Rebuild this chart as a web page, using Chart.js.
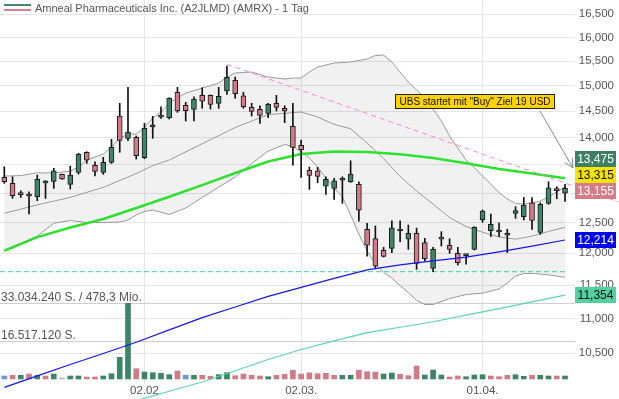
<!DOCTYPE html>
<html>
<head>
<meta charset="utf-8">
<script src="https://cdn.jsdelivr.net/npm/chart.js@4.4.1/dist/chart.umd.min.js"></script>
<style>
  html, body { margin: 0; padding: 0; background: #fff; }
  #wrap { width: 619px; height: 399px; }
</style>
</head>
<body>
<div id="wrap"><canvas id="chart" width="619" height="399"></canvas></div>
<script>
// --- data (AMRX daily) ---
const dates = ['07.01.','08.01.','09.01.','12.01.','13.01.','14.01.','15.01.','16.01.','20.01.','21.01.',
  '22.01.','23.01.','26.01.','27.01.','28.01.','29.01.','30.01.','02.02.','03.02.','04.02.',
  '05.02.','06.02.','09.02.','10.02.','11.02.','12.02.','13.02.','17.02.','18.02.','19.02.',
  '20.02.','23.02.','24.02.','25.02.','26.02.','27.02.','02.03.','03.03.','04.03.','05.03.',
  '06.03.','09.03.','10.03.','11.03.','12.03.','13.03.','16.03.','17.03.','18.03.','19.03.',
  '20.03.','23.03.','24.03.','25.03.','26.03.','27.03.','30.03.','31.03.','01.04.','02.04.',
  '06.04.','07.04.','08.04.','09.04.','10.04.','13.04.','14.04.','15.04.','16.04.'];

const open = [13277,13171,12990,12950,12937,13180,13206,13329,13153,13365,
  13727,13490,13365,13544,14407,13986,14004,13628,14198,14385,
  14375,14870,14614,14536,14810,14810,14653,14896,15110,14802,
  14575,14536,14459,14653,14556,14211,13855,13401,13394,13123,
  13083,13225,13199,13153,12388,12234,12045,12077,12360,12224,
  12322,12169,11759,12228,12127,11997,11960,12061,12542,12365,
  12343,12290,12655,12598,12835,12338,12824,13077,13000];
const high = [13465,13287,13041,13024,13317,13217,13437,13335,13478,13708,
  13738,13555,13635,13967,14653,14969,14029,14268,14402,14587,
  14763,14969,14673,14783,14962,14820,14969,15401,15177,14870,
  14653,14606,14653,14810,14606,14653,13954,13460,13454,13287,
  13259,13287,13573,13199,12487,12443,12094,12527,12527,12459,
  12409,12240,12094,12349,12234,12094,11981,12431,12711,12643,
  12497,12388,12768,12925,12925,12835,13199,13112,13153];
const low = [13171,12909,12926,12643,12869,12909,13083,13240,13071,13334,
  13526,13300,13329,13526,13727,13941,13604,13610,13986,14363,
  14350,14479,14312,14312,14556,14542,14556,14830,14751,14556,
  14407,14268,14375,14504,14280,13496,13277,13065,13181,12978,
  12893,12824,13188,12525,11954,11753,11938,12007,12185,12061,
  11744,11874,11706,12115,11997,11811,11827,12050,12504,12268,
  12268,12007,12570,12542,12388,12305,12808,12903,12858];
const close = [13199,12954,12975,12960,13241,13195,13394,13247,13317,13690,
  13586,13383,13544,13819,13948,14103,13664,14173,14241,14400,
  14751,14504,14510,14738,14698,14632,14791,15171,14842,14587,
  14498,14420,14632,14575,14504,13819,13769,13312,13294,13241,
  13217,13240,13334,12706,12127,11795,11949,12414,12372,12322,
  11838,11911,12061,12240,12061,11848,11970,12421,12694,12470,
  12355,12305,12699,12796,12537,12808,13094,13041,13083];

const volume = [1310000,1610000,1610000,2180000,1610000,1310000,2180000,440000,1310000,1310000,
  870000,870000,1310000,2310000,9470000,33034240,4490000,3050000,2750000,2490000,
  1880000,3490000,1610000,1610000,1610000,1180000,1880000,2750000,1440000,2180000,
  1610000,1310000,1000000,1610000,2050000,3800000,2180000,2700000,2310000,2490000,
  1610000,1610000,1610000,3800000,3190000,3050000,2180000,2620000,2050000,1440000,
  5670000,1750000,3930000,1750000,870000,1310000,1000000,1750000,1880000,1310000,
  1000000,1610000,1880000,1180000,1610000,1610000,1310000,1310000,1310000];
const volDir = ['n','d','u','d','u','d','u','g','u','u',
  'd','d','u','u','u','u','d','u','u','u',
  'u','d','n','u','d','d','u','u','d','d',
  'd','d','u','d','d','d','d','d','d','d',
  'd','u','u','d','d','d','u','u','d','d',
  'd','u','u','u','d','d','u','u','u','d',
  'd','d','u','u','d','u','u','d','u'];

const maIdx = [0,4,8,12,16,20,24,28,32,36,40,44,48,52,56,60,64,68];
const maGreen = [12039,12259,12418,12560,12745,12938,13139,13354,13559,13695,13740,13734,13692,13622,13528,13427,13343,13259];
const maBlue = [10034,10188,10344,10498,10656,10834,11011,11169,11329,11464,11604,11735,11814,11877,11936,12021,12114,12213];
const maTealIdx = [12,16,20,24,28,32,36,40,44,48,52,56,60,64,68];
const maTeal = [9737,9859,9982,10106,10259,10414,10554,10676,10794,10871,10951,11048,11145,11246,11348];

const bbUpperIdx = [0,2,4,6,8,9,10,12,13,14,15,16,17,18,19,20,21,22,24,26,27,28,30,32,34,35,36,37,38,40,
  42,44,45,46,47,48,49,50,51,52,53,54,55,56,57,58,59,60,61,62,63,64,65,66,67,68];
const bbUpper = [13299,13308,13358,13352,13388,13460,13586,13695,13833,13982,14065,14065,14188,14369,14484,
  14659,14757,14856,14954,15055,15177,15258,15278,15177,15136,15156,15156,15278,15380,15463,
  15484,15546,15618,15629,15484,15278,15076,14916,14757,14542,14312,14028,13806,13586,13451,
  13299,13159,13010,12898,12821,12813,12830,12864,12933,13023,13111];
const bbMidIdx = [0,4,8,12,16,18,20,24,28,32,36,38,40,42,44,46,48,50,52,54,56,58,60,62,64,66,68];
const bbMid = [12655,12798,12927,13100,13343,13486,13586,13885,14188,14434,14486,14388,14249,14164,13898,
  13613,13291,13036,12812,12584,12434,12338,12262,12226,12275,12353,12421];
const bbLowIdx = [0,2,4,6,8,10,12,14,15,16,17,18,20,22,24,26,28,30,32,34,35,36,37,38,39,40,41,42,43,44,
  45,46,47,48,49,50,51,52,54,56,58,59,60,61,62,63,64,66,68];
const bbLow = [12039,12156,12278,12487,12534,12500,12500,12509,12542,12627,12686,12711,12635,12745,12924,
  13105,13282,13523,13751,13870,13833,13732,13622,13460,13264,13088,12933,12627,12310,12034,
  11828,11696,11609,11492,11386,11268,11206,11206,11296,11356,11378,11409,11439,11532,11640,
  11678,11681,11658,11620];

const trendIdx = [27, 74.55];
const trendVal = [15436, 12847];
const supportVal = 11707;

const priceTicks = [10500,11000,11500,12000,12500,13000,13500,14000,14500,15000,15500,16000,16500];
const xTickIdx = [17, 36, 58];
const xTickText = ['02.02', '02.03.', '01.04.'];
const volTicks = [16517120, 33034240];
const volText = ['16.517.120 S.', '33.034.240 S. / 478,3 Mio.'];

const tagVals = [13475, 13315, 13155, 12214, 11354];
const tagBg = ['#3d8066', '#f2e400', '#d47d88', '#0000f0', '#52d0a2'];
const tagFg = ['#fff', '#111', '#fff', '#fff', '#111'];

const noteText = 'UBS startet mit "Buy" Ziel 19 USD';
const noteAt = [57.06, 14708];
const arrowFrom = [64.96, 14504];
const arrowTo = [68.97, 13442];

// --- styles ---
const FONT = '"Liberation Sans", Arial, sans-serif';
const UP = '#3e8568', DOWN = '#d27a86';
const volColors = { u: '#3e8568', d: '#d27a86', n: '#6a96e0', g: '#bbbbbb' };
const pts = (idx, vals) => idx.map((x, i) => ({ x: x, y: vals[i] }));

const overlay = {
  id: 'overlay',
  afterDraw(chart) {
    const ctx = chart.ctx;
    const xs = chart.scales.x, ys = chart.scales.y, yv = chart.scales.yv;
    const area = chart.chartArea;
    ctx.save();

    // legend icon + title
    ctx.fillStyle = '#3f8a6a';
    ctx.fillRect(4, 4, 27, 2);
    ctx.fillStyle = '#d9808c';
    ctx.fillRect(4, 9, 27, 2);
    ctx.font = '11px ' + FONT;
    ctx.fillStyle = '#555';
    ctx.textBaseline = 'middle';
    ctx.textAlign = 'left';
    ctx.fillText('Amneal Pharmaceuticals Inc. (A2JLMD) (AMRX) - 1 Tag', 35, 8.5);

    // volume level labels
    ctx.font = '12px ' + FONT;
    ctx.textBaseline = 'alphabetic';
    volTicks.forEach((v, i) => {
      ctx.fillText(volText[i], 1, yv.getPixelForValue(v) - 2.5);
    });

    // price tags on the right
    const tagH = 16;
    const tags = tagVals.map((v, i) => ({ v, bg: tagBg[i], fg: tagFg[i], y: ys.getPixelForValue(v) }))
      .sort((a, b) => a.y - b.y);
    const groups = [];
    tags.forEach(t => {
      const g = groups[groups.length - 1];
      if (g && t.y - g[g.length - 1].y < tagH) g.push(t); else groups.push([t]);
    });
    groups.forEach(g => {
      const mid = g.reduce((s, t) => s + t.y, 0) / g.length;
      g.forEach((t, k) => { t.y = mid + (k - (g.length - 1) / 2) * tagH; });
    });
    ctx.font = '12px ' + FONT;
    ctx.textAlign = 'center';
    ctx.textBaseline = 'middle';
    tags.forEach(t => {
      ctx.fillStyle = t.bg;
      ctx.fillRect(area.right, Math.round(t.y - tagH / 2), 41, tagH);
      ctx.fillStyle = t.fg;
      ctx.fillText(t.v.toLocaleString('en-US'), area.right + 20.5, Math.round(t.y) + 0.5);
    });

    // news note with arrow
    const fx = xs.getPixelForValue(arrowFrom[0]), fy = ys.getPixelForValue(arrowFrom[1]);
    const tx = xs.getPixelForValue(arrowTo[0]), ty = ys.getPixelForValue(arrowTo[1]);
    ctx.strokeStyle = '#8a8a8a';
    ctx.lineWidth = 1;
    ctx.beginPath();
    ctx.moveTo(fx, fy);
    ctx.lineTo(tx, ty);
    const ang = Math.atan2(ty - fy, tx - fx);
    [0.45, -0.45].forEach(a => {
      ctx.moveTo(tx, ty);
      ctx.lineTo(tx - 10 * Math.cos(ang + a), ty - 10 * Math.sin(ang + a));
    });
    ctx.stroke();

    ctx.font = '10px ' + FONT;
    const w = ctx.measureText(noteText).width + 8;
    const cx = xs.getPixelForValue(noteAt[0]), cy = ys.getPixelForValue(noteAt[1]);
    const bx = Math.round(cx - w / 2) + 0.5, by = Math.round(cy - 7) + 0.5;
    ctx.fillStyle = '#ffd200';
    ctx.fillRect(bx, by, w, 14);
    ctx.strokeStyle = '#222';
    ctx.strokeRect(bx, by, w, 14);
    ctx.fillStyle = '#111';
    ctx.textAlign = 'center';
    ctx.fillText(noteText, bx + w / 2, by + 7.5);

    ctx.restore();
  }
};

new Chart(document.getElementById('chart'), {
  type: 'line',
  data: {
    datasets: [
      { // 0 Bollinger upper (fills to lower)
        data: pts(bbUpperIdx, bbUpper), yAxisID: 'y', borderColor: '#999', borderWidth: 1,
        pointRadius: 0, fill: 2, backgroundColor: 'rgba(0,0,0,0.055)', order: 20
      },
      { // 1 Bollinger middle
        data: pts(bbMidIdx, bbMid), yAxisID: 'y', borderColor: '#999', borderWidth: 1,
        pointRadius: 0, fill: false, order: 19
      },
      { // 2 Bollinger lower
        data: pts(bbLowIdx, bbLow), yAxisID: 'y', borderColor: '#999', borderWidth: 1,
        pointRadius: 0, fill: false, order: 18
      },
      { // volume
        type: 'bar', yAxisID: 'yv',
        data: volume.map((v, i) => ({ x: i, y: v })),
        backgroundColor: volDir.map(d => volColors[d]),
        barThickness: 5, grouped: false, order: 15
      },
      { // 200-day line
        data: pts(maTealIdx, maTeal), yAxisID: 'y', borderColor: '#5cd6a9', borderWidth: 1.2,
        pointRadius: 0, fill: false, clip: false, order: 12
      },
      { // 38-day line
        data: pts(maIdx, maGreen), yAxisID: 'y', borderColor: '#2fe02f', borderWidth: 2.5,
        pointRadius: 0, fill: false, order: 11
      },
      { // support level
        data: [{ x: -0.52, y: supportVal }, { x: 68, y: supportVal }], yAxisID: 'y',
        borderColor: '#3fd0a0', borderWidth: 1, borderDash: [5, 3], pointRadius: 0, fill: false, order: 10
      },
      { // trend line
        data: pts(trendIdx, trendVal), yAxisID: 'y', borderColor: '#ff86c0', borderWidth: 1,
        borderDash: [5, 4], pointRadius: 0, fill: false, clip: false, order: 9
      },
      { // wicks
        type: 'bar', yAxisID: 'y',
        data: low.map((l, i) => ({ x: i, y: [l, high[i]] })),
        backgroundColor: '#111', barThickness: 1, grouped: false, order: 6
      },
      { // bodies
        type: 'bar', yAxisID: 'y',
        data: open.map((o, i) => ({ x: i, y: [o, close[i]] })),
        backgroundColor: open.map((o, i) => close[i] >= o ? UP : DOWN),
        borderColor: '#1a1a1a', borderWidth: 1, borderSkipped: false,
        minBarLength: 2, barThickness: 5, grouped: false, order: 5
      },
      { // 100-day line
        data: pts(maIdx, maBlue), yAxisID: 'y', borderColor: '#1616f0', borderWidth: 1.2,
        pointRadius: 0, fill: false, clip: false, order: 3
      }
    ]
  },
  options: {
    responsive: false,
    animation: false,
    events: [],
    layout: { padding: { left: 0, top: 0, bottom: 0, right: 5 } },
    plugins: { legend: { display: false }, tooltip: { enabled: false } },
    elements: { line: { tension: 0 } },
    scales: {
      x: {
        type: 'linear', min: -0.521, max: 69.21, bounds: 'data', position: 'bottom',
        offset: false, grace: 0,
        afterBuildTicks: s => { s.ticks = xTickIdx.map(v => ({ value: v })); },
        afterFit: s => { s.height = 19; s.paddingLeft = 0; s.paddingRight = 0; },
        ticks: {
          autoSkip: false, maxRotation: 0, padding: 0, color: '#555',
          font: { family: FONT, size: 11.5 },
          callback: v => { const k = xTickIdx.indexOf(v); return k >= 0 ? xTickText[k] : ''; }
        },
        grid: { color: '#e6e6e6', drawTicks: true, tickLength: 4, offset: false },
        border: { display: false }
      },
      y: {
        type: 'logarithmic', position: 'right', min: 10133, max: 16818, bounds: 'data',
        afterBuildTicks: s => { s.ticks = priceTicks.map(v => ({ value: v })); },
        afterFit: s => { s.width = 39; s.paddingTop = 0; s.paddingBottom = 0; },
        ticks: {
          autoSkip: false, crossAlign: 'far', padding: 0, color: '#555',
          font: { family: FONT, size: 11.5 },
          callback: v => Number(v).toLocaleString('en-US')
        },
        grid: { color: '#e6e6e6', drawTicks: false },
        border: { display: false }
      },
      yv: {
        type: 'linear', position: 'left', min: -436000, max: 165400000, bounds: 'data',
        afterBuildTicks: s => { s.ticks = volTicks.map(v => ({ value: v })); },
        afterFit: s => { s.width = 0; s.paddingTop = 0; s.paddingBottom = 0; },
        ticks: { display: false },
        grid: { color: '#cfcfcf', drawTicks: false },
        border: { display: false }
      }
    }
  },
  plugins: [overlay]
});
</script>
</body>
</html>
